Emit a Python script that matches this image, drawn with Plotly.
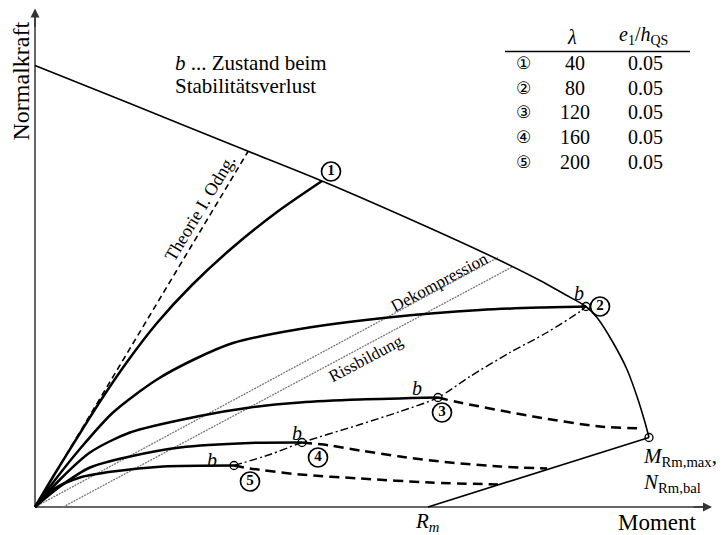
import plotly.graph_objects as go

# ---- data (schematic units: Moment / Normalkraft) ----
# interaction (capacity) curve
cap_M = [0, 95, 215, 287, 398, 463, 505, 530, 551, 562, 578, 592, 602, 610, 614]
cap_N = [441.5, 403.5, 355, 326, 277.5, 247.5, 226.5, 212.5, 200.5, 189.5, 164.5, 137.5, 110.5, 84.5, 69.5]
low_M = [614, 393]
low_N = [69.5, 0]

# first order theory
th1_M = [0, 213]
th1_N = [0, 355.5]

# load paths (stable part)
c1_M = [0, 20, 42, 66, 92, 122, 157, 197, 242, 287]
c1_N = [0, 33.5, 69, 107, 145, 184, 222, 259, 295, 326]
c2_M = [0, 20, 44, 78, 122, 160, 198, 265, 358, 445, 505, 551]
c2_N = [0, 27, 57, 94.5, 127.5, 148, 164, 178, 190, 197, 199.5, 200.5]
c3_M = [0, 25, 55, 95, 162, 215, 265, 325, 403]
c3_N = [0, 27.5, 54.5, 74.5, 90.5, 99.5, 104.5, 107.5, 109.5]
c4_M = [0, 25, 55, 95, 145, 215, 267]
c4_N = [0, 20.5, 39.5, 50.5, 59.5, 64, 64.5]
c5_M = [0, 18, 45, 78, 128, 199]
c5_N = [0, 17.5, 29.5, 35.5, 40.5, 41.5]

# post-critical branches (dashed)
d3_M = [403, 420, 498, 565, 607]
d3_N = [109.5, 105.5, 90.5, 80.5, 78.5]
d4_M = [267, 295, 325, 365, 415, 465, 512]
d4_N = [64.5, 61.5, 56.5, 50.5, 44.5, 40.5, 38.5]
d5_M = [199, 215, 265, 325, 395, 463]
d5_N = [41.5, 38.5, 32.5, 28.5, 24.5, 22.5]

# locus of stability loss (dash-dot)
loc_M = [199, 235, 267, 325, 365, 403, 435, 475, 512, 545, 551]
loc_N = [41.5, 52.5, 64.5, 82.5, 95.5, 109.5, 130.5, 154.5, 174.5, 195.5, 200.5]

# decompression / cracking lines
dek_M = [0, 463]
dek_N = [0, 249.5]
ris_M = [28, 478]
ris_N = [0, 240.5]

# points b and M_Rm,max
b_M = [551, 403, 267, 199]
b_N = [200.5, 109.5, 64.5, 41.5]
mmax_M = [614]
mmax_N = [69.5]

# axes extent
axis_M_max = 677
axis_N_max = 498.5

# circled curve labels
lab_txt = ["1", "2", "3", "4", "5"]
lab_M = [296, 565, 407, 283, 215]
lab_N = [335.5, 200.5, 94.5, 49.5, 25.5]
blab_M = [544, 382, 262, 177]
blab_N = [214.5, 119.5, 74.5, 47.5]

# table
tab_sym = ["①", "②", "③", "④", "⑤"]
tab_lambda = ["40", "80", "120", "160", "200"]
tab_e = ["0.05", "0.05", "0.05", "0.05", "0.05"]

FONT = "Liberation Serif, Times New Roman, DejaVu Serif, serif"

fig = go.Figure()


def line(x, y, width, color="black", dash="solid", smooth=True):
    fig.add_trace(go.Scatter(x=x, y=y, mode="lines",
                             line=dict(color=color, width=width, dash=dash,
                                       shape="spline" if smooth else "linear", smoothing=0.8),
                             hoverinfo="skip", showlegend=False))


# axes
line([0, axis_M_max - 6], [0, 0], 1.5, "#333", smooth=False)
line([0, 0], [0, axis_N_max - 6], 1.5, "#333", smooth=False)

line(dek_M, dek_N, 1.3, "#777", "2px,1px", smooth=False)
line(ris_M, ris_N, 1.3, "#777", "2px,1px", smooth=False)
line(cap_M, cap_N, 1.6)
line(low_M, low_N, 1.6, smooth=False)
line(th1_M, th1_N, 1.6, "black", "6px,4px", smooth=False)
for xm, yn in [(c1_M, c1_N), (c2_M, c2_N), (c3_M, c3_N), (c4_M, c4_N), (c5_M, c5_N)]:
    line(xm, yn, 2.5)
for xm, yn in [(d3_M, d3_N), (d4_M, d4_N), (d5_M, d5_N)]:
    line(xm, yn, 2.5, "black", "10px,6px")
line(loc_M, loc_N, 1.4, "black", "8px,3px,2px,3px")

fig.add_trace(go.Scatter(x=b_M + mmax_M, y=b_N + mmax_N, mode="markers",
                         marker=dict(symbol="circle-open", size=8, color="black", line=dict(width=1.3)),
                         hoverinfo="skip", showlegend=False, cliponaxis=False))
fig.add_trace(go.Scatter(x=lab_M, y=lab_N, mode="markers+text",
                         text=["<b>%s</b>" % t for t in lab_txt], textposition="middle center",
                         textfont=dict(family=FONT, size=15, color="black"),
                         marker=dict(symbol="circle-open", size=19, color="black", line=dict(width=1.7)),
                         hoverinfo="skip", showlegend=False, cliponaxis=False))
for xm, yn in zip(blab_M, blab_N):
    fig.add_annotation(x=xm, y=yn, text="<i>b</i>", showarrow=False,
                       font=dict(family=FONT, size=20, color="black"))

# table
fig.add_annotation(x=537, y=470.5, text="<i>λ</i>", showarrow=False, font=dict(family=FONT, size=20))
fig.add_annotation(x=608, y=471.5, text="<i>e</i><sub>1</sub>/<i>h</i><sub>QS</sub>", showarrow=False,
                   font=dict(family=FONT, size=20))
fig.add_shape(type="line", x0=470, x1=655, y0=455.5, y1=455.5, line=dict(color="black", width=1.5))
rows_N = [444.5, 419.5, 395.5, 370.5, 345.5]
for s, l, e, yn in zip(tab_sym, tab_lambda, tab_e, rows_N):
    fig.add_annotation(x=488, y=yn, text=s, showarrow=False, font=dict(family="DejaVu Sans", size=17))
    fig.add_annotation(x=540, y=yn, text=l, showarrow=False, font=dict(family=FONT, size=20))
    fig.add_annotation(x=610, y=yn, text=e, showarrow=False, font=dict(family=FONT, size=20))

# text labels
fig.add_annotation(x=138, y=444.5, text="<i>b</i> ... Zustand beim", xanchor="left", showarrow=False,
                   font=dict(family=FONT, size=21))
fig.add_annotation(x=138, y=421.5, text="Stabilitätsverlust", xanchor="left", showarrow=False,
                   font=dict(family=FONT, size=21))
fig.add_annotation(x=165, y=299, text="Theorie I. Odng.", textangle=-59, showarrow=False,
                   font=dict(family=FONT, size=18))
fig.add_annotation(x=404, y=224.5, text="Dekompression", textangle=-28, showarrow=False,
                   font=dict(family=FONT, size=17))
fig.add_annotation(x=331, y=148.5, text="Rissbildung", textangle=-28, showarrow=False,
                   font=dict(family=FONT, size=17))
fig.add_annotation(x=606, y=50.5, text="<i>M</i><sub>Rm,max</sub>,", xanchor="left", showarrow=False,
                   font=dict(family=FONT, size=21))
fig.add_annotation(x=606, y=24.5, text="<i>N</i><sub>Rm,bal</sub>", xanchor="left", showarrow=False,
                   font=dict(family=FONT, size=21))
fig.add_annotation(x=392, y=-14.5, text="<i>R<sub>m</sub></i>", showarrow=False,
                   font=dict(family=FONT, size=21))
fig.add_annotation(x=622, y=-15.5, text="Moment", showarrow=False, font=dict(family=FONT, size=23))
fig.add_annotation(x=-15, y=425.5, text="Normalkraft", textangle=-90, showarrow=False,
                   font=dict(family=FONT, size=24))

# axis arrowheads
fig.add_annotation(x=axis_M_max, y=0, ax=axis_M_max - 20, ay=0, axref="x", ayref="y", text="",
                   showarrow=True, arrowhead=2, arrowsize=1.2, arrowwidth=1.5, arrowcolor="#333", standoff=0)
fig.add_annotation(x=0, y=axis_N_max, ax=0, ay=axis_N_max - 20, axref="x", ayref="y", text="",
                   showarrow=True, arrowhead=2, arrowsize=1.2, arrowwidth=1.5, arrowcolor="#333", standoff=0)

# the page body adds an 8px margin, so the figure is sized to end exactly at the window edge
fig.update_xaxes(range=[-27, 691], visible=False, fixedrange=True)
fig.update_yaxes(range=[-28, 499], visible=False, fixedrange=True)
fig.update_layout(width=718, height=527, margin=dict(l=0, r=0, t=0, b=0),
                  plot_bgcolor="white", paper_bgcolor="white", showlegend=False,
                  font=dict(family=FONT, color="black"))

fig.write_html("out.html")
